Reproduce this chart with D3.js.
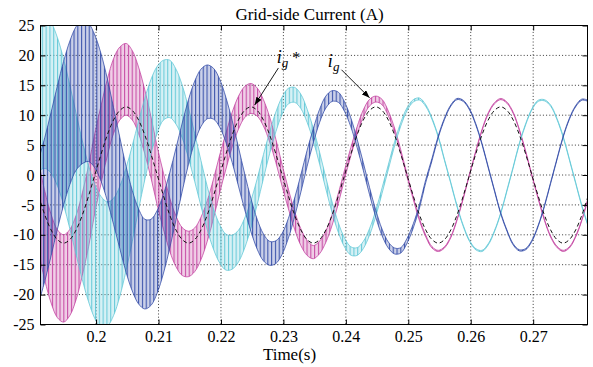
<!DOCTYPE html>
<html>
<head>
<meta charset="utf-8">
<script src="https://cdn.jsdelivr.net/npm/d3@7"></script>
<style>
body { margin: 0; background: #fff; }
svg text { font-family: "Liberation Serif", "Times New Roman", Tinos, "DejaVu Serif", serif; }
</style>
</head>
<body>
<div id="chart"></div>
<script>
// sample instants (s)
var time = [0.1908, 0.1918, 0.1928, 0.1938, 0.1948, 0.1958, 0.1968, 0.1978, 0.1988, 0.1998,
    0.2008, 0.2018, 0.2028, 0.2038, 0.2048, 0.2058, 0.2068, 0.2078, 0.2088, 0.2098,
    0.2108, 0.2118, 0.2128, 0.2138, 0.2148, 0.2158, 0.2168, 0.2178, 0.2188, 0.2198,
    0.2208, 0.2218, 0.2228, 0.2238, 0.2248, 0.2258, 0.2268, 0.2278, 0.2288, 0.2298,
    0.2308, 0.2318, 0.2328, 0.2338, 0.2348, 0.2358, 0.2368, 0.2378, 0.2388, 0.2398,
    0.2408, 0.2418, 0.2428, 0.2438, 0.2448, 0.2458, 0.2468, 0.2478, 0.2488, 0.2498,
    0.2508, 0.2518, 0.2528, 0.2538, 0.2548, 0.2558, 0.2568, 0.2578, 0.2588, 0.2598,
    0.2608, 0.2618, 0.2628, 0.2638, 0.2648, 0.2658, 0.2668, 0.2678, 0.2688, 0.2698,
    0.2708, 0.2718, 0.2728, 0.2738, 0.2748, 0.2758, 0.2768, 0.2778, 0.2788];

// phase a (magenta): mid value of the ripple band and half band width (A)
var iaMid = [-5.4, -10.2, -14.0, -16.5, -17.3, -16.3, -13.8, -9.9, -5.2, 0.3,
    5.1, 9.6, 13.2, 15.3, 16.0, 15.0, 12.5, 8.9, 4.6, -0.2,
    -4.4, -8.3, -11.1, -12.8, -13.2, -12.5, -10.6, -7.7, -4.0, 0.2,
    4.0, 7.6, 10.4, 12.2, 12.8, 12.2, 10.4, 7.6, 4.0, -0.1,
    -4.0, -7.6, -10.4, -12.2, -12.9, -12.1, -10.3, -7.5, -3.9, 0.1,
    3.9, 7.4, 10.3, 12.1, 12.7, 12.2, 10.3, 7.5, 3.9, -0.1,
    -3.9, -7.5, -10.2, -12.1, -12.7, -12.1, -10.4, -7.5, -3.9, 0.1,
    3.9, 7.5, 10.3, 12.0, 12.7, 12.1, 10.4, 7.5, 3.9, -0.1,
    -3.9, -7.5, -10.3, -12.0, -12.7, -12.1, -10.3, -7.5, -3.9];
var iaRipple = [7.5, 7.45, 7.4, 7.35, 7.3, 7.2, 7.05, 6.9, 6.8, 6.65,
    6.5, 6.4, 6.25, 6.1, 6.0, 5.8, 5.55, 5.35, 5.1, 4.9,
    4.7, 4.45, 4.25, 4.0, 3.8, 3.65, 3.55, 3.4, 3.3, 3.15,
    3.0, 2.9, 2.75, 2.6, 2.5, 2.35, 2.2, 2.1, 1.95, 1.8,
    1.65, 1.5, 1.4, 1.25, 1.1, 1.05, 0.95, 0.9, 0.85, 0.75,
    0.7, 0.65, 0.6, 0.55, 0.5, 0.45, 0.4, 0.35, 0.3, 0.25,
    0.2, 0.18, 0.15, 0.12, 0.1, 0.1, 0.1, 0.1, 0.1, 0.1,
    0.1, 0.1, 0.1, 0.1, 0.1, 0.1, 0.1, 0.1, 0.1, 0.1,
    0.1, 0.1, 0.1, 0.1, 0.1, 0.1, 0.1, 0.1, 0.1];

// phase b (dark blue)
var ibMid = [-9.4, -5.7, -1.5, 2.9, 7.0, 10.4, 12.8, 13.9, 13.8, 12.3,
    9.6, 5.9, 1.5, -3.0, -7.4, -11.0, -13.6, -14.9, -14.6, -12.8,
    -9.8, -5.9, -1.5, 3.0, 7.2, 10.6, 12.9, 13.9, 13.6, 12.0,
    9.2, 5.6, 1.4, -2.8, -6.7, -9.9, -12.1, -13.1, -12.9, -11.5,
    -8.9, -5.4, -1.4, 2.8, 6.6, 9.9, 12.2, 13.2, 13.0, 11.4,
    8.8, 5.3, 1.4, -2.7, -6.5, -9.6, -11.7, -12.7, -12.6, -11.0,
    -8.5, -5.2, -1.0, 2.6, 6.4, 9.4, 11.6, 12.7, 12.4, 11.0,
    8.5, 5.2, 1.3, -2.6, -6.4, -9.3, -11.6, -12.6, -12.4, -11.0,
    -8.5, -5.2, -1.3, 2.6, 6.4, 9.4, 11.5, 12.6, 12.4];
var ibRipple = [12, 12, 12, 12, 12, 12, 12, 12, 11.55, 11.1,
    10.65, 10.2, 9.75, 9.3, 8.85, 8.4, 7.95, 7.5, 7.2, 6.9,
    6.6, 6.3, 6.0, 5.7, 5.4, 5.1, 4.8, 4.5, 4.25, 4.0,
    3.75, 3.5, 3.25, 3.0, 2.75, 2.5, 2.25, 2.0, 1.9, 1.75,
    1.65, 1.55, 1.45, 1.35, 1.2, 1.1, 1.0, 0.9, 0.85, 0.8,
    0.75, 0.7, 0.65, 0.6, 0.6, 0.55, 0.5, 0.5, 0.45, 0.4,
    0.35, 0.3, 0.25, 0.2, 0.15, 0.12, 0.1, 0.1, 0.1, 0.1,
    0.1, 0.1, 0.1, 0.1, 0.1, 0.1, 0.1, 0.1, 0.1, 0.1,
    0.1, 0.1, 0.1, 0.1, 0.1, 0.1, 0.1, 0.1, 0.1];

// phase c (light cyan)
var icMid = [13.7, 13.9, 12.9, 10.6, 7.2, 3.0, -1.5, -5.9, -9.8, -12.8,
    -14.6, -14.9, -13.7, -11.1, -7.4, -3.1, 1.6, 6.0, 9.8, 12.6,
    14.2, 14.4, 13.1, 10.6, 7.0, 2.9, -1.4, -5.5, -9.0, -11.5,
    -12.9, -12.9, -11.9, -9.7, -6.6, -2.8, 1.4, 5.4, 8.9, 11.6,
    13.2, 13.4, 12.3, 9.9, 6.7, 2.8, -1.4, -5.4, -8.8, -11.3,
    -12.7, -12.8, -11.7, -9.5, -6.4, -2.6, 1.3, 5.2, 8.5, 11.0,
    12.4, 12.7, 11.6, 9.4, 6.4, 2.5, -1.3, -5.2, -8.5, -11.0,
    -12.4, -12.7, -11.6, -9.4, -6.4, -2.6, 1.3, 5.3, 8.5, 11.0,
    12.4, 12.5, 11.6, 9.4, 6.4, 2.6, -1.3, -5.2, -8.5];
var icRipple = [13, 12.8, 12.6, 12.4, 12.2, 12, 11.8, 11.6, 11.4, 11.2,
    11, 10.4, 9.8, 9.2, 8.6, 8.0, 7.4, 6.8, 6.2, 5.6,
    5.0, 4.8, 4.6, 4.4, 4.2, 4.0, 3.8, 3.6, 3.4, 3.2,
    3.0, 2.85, 2.65, 2.5, 2.3, 2.15, 2.0, 1.8, 1.65, 1.45,
    1.3, 1.25, 1.2, 1.1, 1.05, 1.0, 0.95, 0.9, 0.8, 0.75,
    0.7, 0.65, 0.6, 0.55, 0.5, 0.45, 0.4, 0.35, 0.3, 0.25,
    0.2, 0.17, 0.14, 0.12, 0.1, 0.1, 0.1, 0.1, 0.1, 0.1,
    0.1, 0.1, 0.1, 0.1, 0.1, 0.1, 0.1, 0.1, 0.1, 0.1,
    0.1, 0.1, 0.1, 0.1, 0.1, 0.1, 0.1, 0.1, 0.1];

// reference current ig* (dashed)
var igRef = [-3.5, -6.7, -9.2, -10.8, -11.4, -10.8, -9.2, -6.7, -3.5, 0,
    3.5, 6.7, 9.2, 10.8, 11.4, 10.8, 9.2, 6.7, 3.5, 0,
    -3.5, -6.7, -9.2, -10.8, -11.4, -10.8, -9.2, -6.7, -3.5, 0,
    3.5, 6.7, 9.2, 10.8, 11.4, 10.8, 9.2, 6.7, 3.5, 0,
    -3.5, -6.7, -9.2, -10.8, -11.4, -10.8, -9.2, -6.7, -3.5, 0,
    3.5, 6.7, 9.2, 10.8, 11.4, 10.8, 9.2, 6.7, 3.5, 0,
    -3.5, -6.7, -9.2, -10.8, -11.4, -10.8, -9.2, -6.7, -3.5, 0,
    3.5, 6.7, 9.2, 10.8, 11.4, 10.8, 9.2, 6.7, 3.5, 0,
    -3.5, -6.7, -9.2, -10.8, -11.4, -10.8, -9.2, -6.7, -3.5];

var xTicks = [0.2, 0.21, 0.22, 0.23, 0.24, 0.25, 0.26, 0.27];
var xTickLabels = ["0.2", "0.21", "0.22", "0.23", "0.24", "0.25", "0.26", "0.27"];
var yTicks = [-25, -20, -15, -10, -5, 0, 5, 10, 15, 20, 25];
var yTickLabels = ["-25", "-20", "-15", "-10", "-5", "0", "5", "10", "15", "20", "25"];

var serif = "'Liberation Serif', 'Times New Roman', Tinos, 'DejaVu Serif', serif";

function gridCurrentChart() {
    var margin = {top: 25.5, right: 5.5, bottom: 42.5, left: 40.5},
        width = 593 - margin.left - margin.right,
        height = 367 - margin.top - margin.bottom;

    var x = d3.scaleLinear()
        .domain([0.1911, 0.2787])
        .range([0, width]);

    var y = d3.scaleLinear()
        .domain([-25, 25])
        .range([height, 0]);

    var root = d3.select("#chart").append("svg")
        .attr("width", 593)
        .attr("height", 367)
        .attr("font-family", serif);

    var svg = root.append("g")
        .attr("transform", "translate(" + margin.left + "," + margin.top + ")");

    var defs = root.append("defs");
    defs.append("clipPath").attr("id", "plotclip")
        .append("rect").attr("width", width).attr("height", height);

    var phases = [
        {name: "ia", mid: iaMid, ripple: iaRipple, color: "#C23E9F", shift: 0},
        {name: "ic", mid: icMid, ripple: icRipple, color: "#5EC7D6", shift: 1.3},
        {name: "ib", mid: ibMid, ripple: ibRipple, color: "#2E47A6", shift: 2.6}
    ];

    // vertical stripes stand for the dense switching ripple
    phases.forEach(function(p) {
        var pat = defs.append("pattern")
            .attr("id", "rip-" + p.name)
            .attr("patternUnits", "userSpaceOnUse")
            .attr("x", p.shift)
            .attr("width", 3.8)
            .attr("height", 6);
        pat.append("rect").attr("width", 3.8).attr("height", 6)
            .attr("fill", p.color).attr("fill-opacity", 0.25);
        pat.append("rect").attr("width", 1.1).attr("height", 6)
            .attr("fill", p.color).attr("fill-opacity", 0.9);
    });

    defs.append("marker")
        .attr("id", "arrowhead")
        .attr("markerUnits", "userSpaceOnUse")
        .attr("markerWidth", 9).attr("markerHeight", 7)
        .attr("refX", 8).attr("refY", 3)
        .attr("orient", "auto")
        .append("path")
        .attr("d", "M0,0L8,3L0,6Z")
        .attr("fill", "#000");

    // grid
    var grid = svg.append("g").attr("class", "grid");
    grid.selectAll(".vgrid")
        .data(xTicks)
        .enter().append("line")
        .attr("x1", function(d) { return x(d); })
        .attr("x2", function(d) { return x(d); })
        .attr("y1", 0)
        .attr("y2", height);
    grid.selectAll(".hgrid")
        .data(yTicks.slice(1, -1))
        .enter().append("line")
        .attr("x1", 0)
        .attr("x2", width)
        .attr("y1", function(d) { return y(d); })
        .attr("y2", function(d) { return y(d); });
    grid.selectAll("line")
        .style("stroke", "#222")
        .style("stroke-width", 0.9)
        .style("stroke-dasharray", "1,2.2");

    var plot = svg.append("g").attr("clip-path", "url(#plotclip)");

    var band = d3.area()
        .x(function(d) { return x(d.t); })
        .y0(function(d) { return y(d.lo); })
        .y1(function(d) { return y(d.hi); })
        .curve(d3.curveCatmullRom);

    var edgeHi = d3.line()
        .x(function(d) { return x(d.t); })
        .y(function(d) { return y(d.hi); })
        .curve(d3.curveCatmullRom);

    var edgeLo = d3.line()
        .x(function(d) { return x(d.t); })
        .y(function(d) { return y(d.lo); })
        .curve(d3.curveCatmullRom);

    phases.forEach(function(p) {
        var rows = time.map(function(t, i) {
            return {t: t, lo: p.mid[i] - p.ripple[i], hi: p.mid[i] + p.ripple[i]};
        });
        var g = plot.append("g").attr("class", "phase " + p.name);
        g.append("path").datum(rows)
            .attr("d", band)
            .attr("fill", "url(#rip-" + p.name + ")");
        g.append("path").datum(rows)
            .attr("d", edgeHi)
            .attr("fill", "none").attr("stroke", p.color).attr("stroke-width", 0.75);
        g.append("path").datum(rows)
            .attr("d", edgeLo)
            .attr("fill", "none").attr("stroke", p.color).attr("stroke-width", 0.75);
    });

    var refLine = d3.line()
        .x(function(d, i) { return x(time[i]); })
        .y(function(d) { return y(d); })
        .curve(d3.curveCatmullRom);

    plot.append("path").datum(igRef)
        .attr("d", refLine)
        .attr("fill", "none")
        .attr("stroke", "#111")
        .attr("stroke-width", 1)
        .attr("stroke-dasharray", "4,3");

    // axes, ticks point inward like the original plot
    var xAxis = d3.axisBottom(x)
        .tickValues(xTicks)
        .tickFormat(function(d, i) { return xTickLabels[i]; })
        .tickSizeInner(-5).tickSizeOuter(0).tickPadding(6);
    var yAxis = d3.axisLeft(y)
        .tickValues(yTicks)
        .tickFormat(function(d, i) { return yTickLabels[i]; })
        .tickSizeInner(-5).tickSizeOuter(0).tickPadding(6);

    svg.append("g")
        .attr("class", "x axis")
        .attr("transform", "translate(0," + height + ")")
        .call(xAxis);
    svg.append("g")
        .attr("class", "y axis")
        .call(yAxis);
    svg.append("g")
        .attr("class", "x axis")
        .call(d3.axisTop(x).tickValues(xTicks).tickSize(-5).tickFormat(""));
    svg.append("g")
        .attr("class", "y axis")
        .attr("transform", "translate(" + width + ",0)")
        .call(d3.axisRight(y).tickValues(yTicks).tickSize(-5).tickFormat(""));

    svg.selectAll(".axis").attr("font-family", serif);
    svg.selectAll(".axis .domain").remove();
    svg.selectAll(".axis line").style("stroke", "#000");
    svg.selectAll(".axis text")
        .style("font-family", serif)
        .style("font-size", "16px")
        .style("fill", "#000");

    svg.append("rect")
        .attr("width", width)
        .attr("height", height)
        .attr("fill", "none")
        .attr("stroke", "#000")
        .attr("stroke-width", 1);

    svg.append("text")
        .attr("x", 269)
        .attr("y", -6)
        .attr("text-anchor", "middle")
        .style("font-family", serif)
        .style("font-size", "17px")
        .text("Grid-side Current (A)");

    svg.append("text")
        .attr("x", 249)
        .attr("y", height + 35)
        .attr("text-anchor", "middle")
        .style("font-family", serif)
        .style("font-size", "17px")
        .text("Time(s)");

    // annotations (anchored in data units)
    var notes = [
        {main: "i", sub: "g", tail: " *", textT: 0.22895, textV: 18.8, fromT: 0.2292, fromV: 17.9, toT: 0.2254, toV: 11.7},
        {main: "i", sub: "g", tail: "", textT: 0.23712, textV: 18.1, fromT: 0.2393, fromV: 17.6, toT: 0.2438, toV: 12.9}
    ];

    var note = svg.selectAll(".note")
        .data(notes)
        .enter().append("g")
        .attr("class", "note");

    note.append("line")
        .attr("x1", function(d) { return x(d.fromT); })
        .attr("y1", function(d) { return y(d.fromV); })
        .attr("x2", function(d) { return x(d.toT); })
        .attr("y2", function(d) { return y(d.toV); })
        .attr("stroke", "#000")
        .attr("stroke-width", 0.9)
        .attr("marker-end", "url(#arrowhead)");

    var label = note.append("text")
        .attr("x", function(d) { return x(d.textT); })
        .attr("y", function(d) { return y(d.textV); })
        .style("font-family", serif)
        .style("fill", "#000");
    label.append("tspan")
        .style("font-style", "italic")
        .style("font-size", "18px")
        .text(function(d) { return d.main; });
    label.append("tspan")
        .attr("dy", 4)
        .style("font-style", "italic")
        .style("font-size", "13px")
        .text(function(d) { return d.sub; });
    label.append("tspan")
        .attr("dy", -4)
        .style("font-size", "16px")
        .text(function(d) { return d.tail; });
}

gridCurrentChart();
</script>
</body>
</html>
